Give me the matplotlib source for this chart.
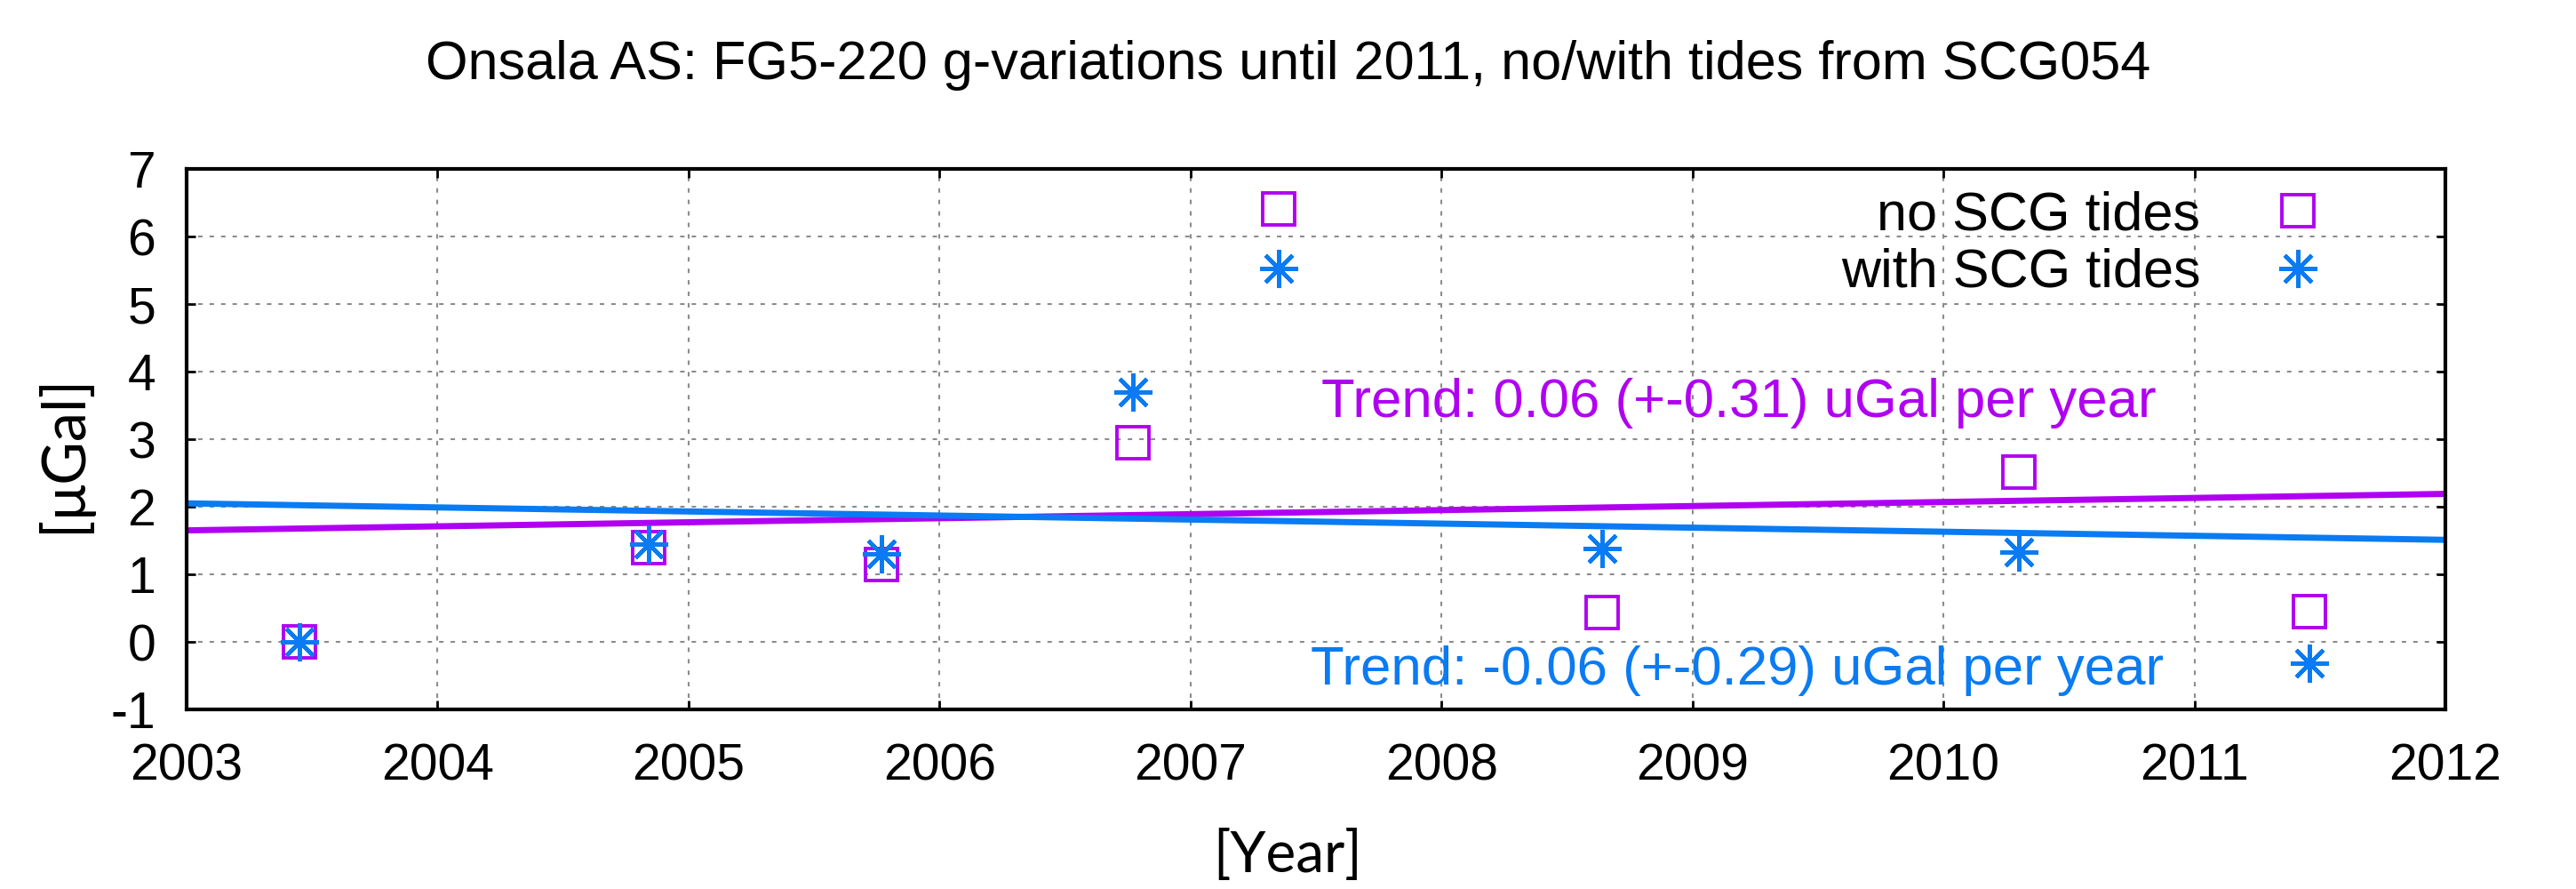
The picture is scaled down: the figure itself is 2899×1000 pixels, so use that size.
import matplotlib
matplotlib.use("Agg")
import matplotlib.pyplot as plt

# measurement epochs (decimal year) and g-variations [uGal]
years = [2003.45, 2004.84, 2005.77, 2006.77, 2007.35, 2008.64, 2010.30, 2011.46]
no_tides = [0.0, 1.40, 1.15, 2.95, 6.41, 0.44, 2.51, 0.45]
with_tides = [0.0, 1.45, 1.30, 3.70, 5.53, 1.38, 1.33, -0.32]

# linear trends, end points at the x-range limits
trend_x = [2003, 2012]
trend_no = [1.65, 2.19]
trend_with = [2.05, 1.51]

xticks = list(range(2003, 2013))
yticks = list(range(-1, 8))

purple = '#B000F2'
blue = '#0A7BF2'

plt.rcParams['font.family'] = ['Liberation Sans', 'DejaVu Sans']

fig = plt.figure(figsize=(28.99, 10), dpi=100)
ax = fig.add_axes([0.0724, 0.202, 0.8769, 0.608])

# trend lines
ax.plot(trend_x, trend_no, color=purple, linewidth=5, zorder=2)
ax.plot(trend_x, trend_with, color=blue, linewidth=5, zorder=2)

# data points
ax.plot(years, no_tides, linestyle='none', marker='s', markersize=26,
        markerfacecolor='none', markeredgecolor=purple, markeredgewidth=2.8,
        label='no SCG tides', zorder=3)
ax.plot(years, with_tides, linestyle='none', marker=(8, 2, 0), markersize=31,
        markeredgecolor=blue, markerfacecolor=blue, markeredgewidth=3.2,
        label='with SCG tides', zorder=4)

ax.set_xlim(2003, 2012)
ax.set_ylim(-1, 7)
ax.set_xticks(xticks)
ax.set_yticks(yticks)
ax.set_xticklabels([str(x) for x in xticks])
ax.set_yticklabels([str(y) for y in yticks])

ax.tick_params(axis='both', direction='in', length=7, width=2,
               top=True, right=True, labelsize=41)
ax.tick_params(axis='x', pad=27)
ax.tick_params(axis='y', pad=25)

for sp in ax.spines.values():
    sp.set_linewidth(3)

ax.grid(True, color='#8c8c8c', linestyle=(0, (2.4, 3.8)), linewidth=1.5, zorder=0)
ax.set_axisbelow(True)

# trend annotations
ax.text(2007.52, 3.53, 'Trend: 0.06 (+-0.31) uGal per year', color=purple,
        fontsize=44.5, va='center', ha='left')
ax.text(2007.48, -0.43, 'Trend: -0.06 (+-0.29) uGal per year', color=blue,
        fontsize=44.5, va='center', ha='left')

leg = ax.legend(loc='upper right', bbox_to_anchor=(0.9685, 1.05), frameon=False,
                markerfirst=False, fontsize=44, handlelength=1.0,
                handletextpad=1.3, labelspacing=0.12, numpoints=1)

fig.text(0.5, 0.926, 'Onsala AS: FG5-220 g-variations until 2011, no/with tides from SCG054',
         ha='center', va='center', fontsize=44)

# axis labels added in another font
fig.text(0.5, 0.038, '[Year]', ha='center', va='center', fontsize=46,
         family=['Lato', 'DejaVu Sans'])
fig.text(0.0245, 0.49, '[\u03bcGal]', ha='center', va='center', fontsize=48,
         rotation=90, family=['Lato', 'DejaVu Sans'])

fig.savefig('out.png', dpi=100)
